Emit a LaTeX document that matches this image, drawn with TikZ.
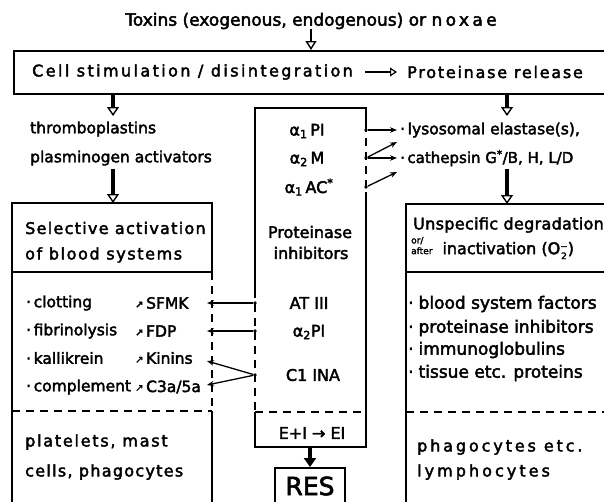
\documentclass[tikz,border=0pt]{standalone}
\usepackage{fontspec}
\setmainfont{DejaVu Sans}[FakeBold=2.5]
\usetikzlibrary{positioning,calc,arrows.meta}
\tikzset{>={Stealth[length=7pt,width=5.5pt]}}
\newcommand{\spaced}[2][10]{{\addfontfeature{LetterSpace=#1}#2}}
\newcommand{\upar}{\raisebox{1pt}{\fontsize{10}{10}\selectfont ↗}}

\begin{document}
\begin{tikzpicture}[x=1pt,y=-1pt,
    txt/.style={inner sep=0pt, anchor=west, font=\fontsize{16}{19}\selectfont},
    ctr/.style={inner sep=0pt, font=\fontsize{16}{19}\selectfont},
    boxline/.style={line width=1.7pt},
    dashline/.style={line width=1.4pt, dash pattern=on 8pt off 6pt},
    opentip/.style={line width=3.2pt, -{Triangle[open, length=9pt, width=12pt, line width=1.4pt]}},
    filltip/.style={line width=3.2pt, -{Triangle[length=9pt, width=12pt]}},
    inhib/.style={line width=1.3pt, ->},
    edgedot/.style={circle, fill, inner sep=0pt, minimum size=3.6pt}
]
\useasboundingbox (0,0) rectangle (604,501);

% top line and cell box
\node[ctr, font=\fontsize{17}{20}\selectfont] (toxins) at (311,21) {Toxins (exogenous, endogenous) or \spaced[20]{noxae}};
\node[draw, boxline, anchor=north west, minimum width=640pt, minimum height=43pt] (topbox) at (13,50) {};
\node[txt] (cellst) at (32,72) {\spaced[15]{Cell stimulation / disintegration}};
\node[txt] (release) at (407,72) {\spaced[11]{Proteinase release}};
\draw[line width=2.6pt, -{Triangle[open, length=7pt, width=9pt, line width=1.2pt]}] ([xshift=12pt]cellst.east) -- ([xshift=-10pt]release.west);
\draw[line width=1.6pt, -{Triangle[open, length=9pt, width=11pt, line width=1.4pt]}] (toxins.south) -- (toxins.south |- topbox.north);

% left column
\node[txt, font=\fontsize{15.5}{18}\selectfont] (thrombo) at (30,129) {thromboplastins};
\node[txt, font=\fontsize{15.5}{18}\selectfont] (plasmin) at (30,158) {plasminogen activators};
\coordinate (lefttop) at (113,203);
\draw[opentip] (topbox.south -| lefttop) -- (113,116);
\draw[opentip] (plasmin.south -| lefttop) ++(0,3) -- (lefttop);

\draw[boxline] (12,520) -- (12,203) -- (212,203) -- (212,272);
\draw[dashline] (212,272) -- (212,411);
\draw[boxline] (212,411) -- (212,520);
\draw[boxline] (12,272) -- (212,272);
\draw[dashline] (12,411) -- (212,411);

\node[txt] (selA) at (25,228) {\spaced[8]{Selective activation}};
\node[txt] (selB) at (25,255) {\spaced[10]{of blood systems}};
\foreach \name/\y/\word in {clot/303/clotting, fibr/331/fibrinolysis, kall/358/kallikrein, comp/387/complement}
  \node[txt, font=\fontsize{15.5}{18}\selectfont] (\name) at (26,\y) {·\,\word};
\foreach \name/\y/\word in {sfmk/303/SFMK, fdp/331/FDP, kin/358/Kinins, cfa/387/{C3a/5a}}
  \node[txt, font=\fontsize{15.5}{18}\selectfont] (\name) at (135,\y) {\upar\,\word};
\node[txt] (plate) at (25,442) {\spaced[11]{platelets, mast}};
\node[txt] (cells) at (25,472) {\spaced[8]{cells, phagocytes}};

% proteinase inhibitors
\draw[boxline] (255,290) -- (255,108) -- (366,108) -- (366,124);
\draw[dashline] (366,124) -- (366,192);
\draw[boxline] (366,192) -- (366,447) -- (255,447) -- (255,412);
\draw[dashline] (255,290) -- (255,412);
\draw[dashline] (255,412) -- (366,412);

\node[ctr] (api) at (307,131) {α\textsubscript{1}\,PI};
\node[ctr] (amac) at (307,159) {α\textsubscript{2}\,M};
\node[ctr] (aac) at (309,187) {α\textsubscript{1}\,AC\textsuperscript{*}};
\node[ctr] (prot) at (310,232) {Proteinase};
\node[ctr] (inhi) at (311,253) {inhibitors};
\node[ctr] (atiii) at (309,303) {AT III};
\node[ctr] (apl) at (309,332) {α\textsubscript{2}PI};
\node[ctr] (cina) at (313,375) {C1 INA};
\node[ctr] (eiei) at (312,433) {E+I → EI};

\node[draw, boxline, anchor=north, minimum width=70pt, minimum height=50pt] (resbox) at (310,467) {};
\node[inner sep=0pt, font=\fontsize{25}{28}\selectfont] (res) at (310,486) {RES};
\draw[filltip] (310,447) -- (resbox.north);

% right column
\node[txt, font=\fontsize{15.5}{18}\selectfont] (lyso) at (400,130) {·\,lysosomal elastase(s),};
\node[txt, font=\fontsize{15}{18}\selectfont] (cath) at (400,158) {·\,cathepsin G\textsuperscript{*}/B, H, L/D};
\coordinate (righttop) at (507,204);
\draw[opentip] (topbox.south -| righttop) -- (507,116);
\draw[opentip] (cath.south -| righttop) ++(0,3) -- (righttop);

\draw[boxline] (406,520) -- (406,204) -- (620,204);
\draw[boxline] (406,272) -- (620,272);
\draw[dashline] (406,412) -- (620,412);
\node[txt] (unspec) at (413,225) {\spaced[2]{Unspecific degradation}};
\node[txt] (inact) at (411,248) {\shortstack[l]{\fontsize{9}{8}\selectfont or/\\\fontsize{9}{8}\selectfont after}\hspace{10pt}inactivation (O\raisebox{-5pt}{\shortstack{\fontsize{9}{10}\selectfont −\\\fontsize{9}{10}\selectfont 2}})};
\foreach \name/\y/\word in {bsf/304/blood system factors, pinh/328/proteinase inhibitors, immu/350/immunoglobulins, tiss/373/tissue etc. proteins}
  \node[txt, font=\fontsize{17}{20}\selectfont] (\name) at (408,\y) {·\hspace{5pt}\word};
\node[txt] (phag) at (417,447) {\spaced[18]{phagocytes etc.}};
\node[txt] (lymph) at (417,472) {\spaced[19]{lymphocytes}};

% inhibitor connectors
\node[edgedot] (d1) at (366,130) {};
\node[edgedot] (d2) at (366,158) {};
\node[edgedot] (d3) at (366,187) {};
\coordinate (up1) at (397,142);
\coordinate (up2) at (397,172);
\draw[inhib] (d1) -- ([xshift=-3pt]lyso.west);
\draw[inhib] (d2) -- ([xshift=-3pt]cath.west);
\draw[inhib] (d2) -- (up1);
\draw[inhib] (d3) -- (up2);

\node[edgedot] (e1) at (255,303) {};
\node[edgedot] (e2) at (255,331) {};
\node[edgedot] (e3) at (255,375) {};
\coordinate (t1) at (207,303);
\coordinate (t2) at (207,331);
\coordinate (t3) at (207,361);
\coordinate (t4) at (207,385);
\draw[inhib] (e1) -- (t1);
\draw[inhib] (e2) -- (t2);
\draw[inhib] (e3) -- (t3);
\draw[inhib] (e3) -- (t4);
\end{tikzpicture}
\end{document}
